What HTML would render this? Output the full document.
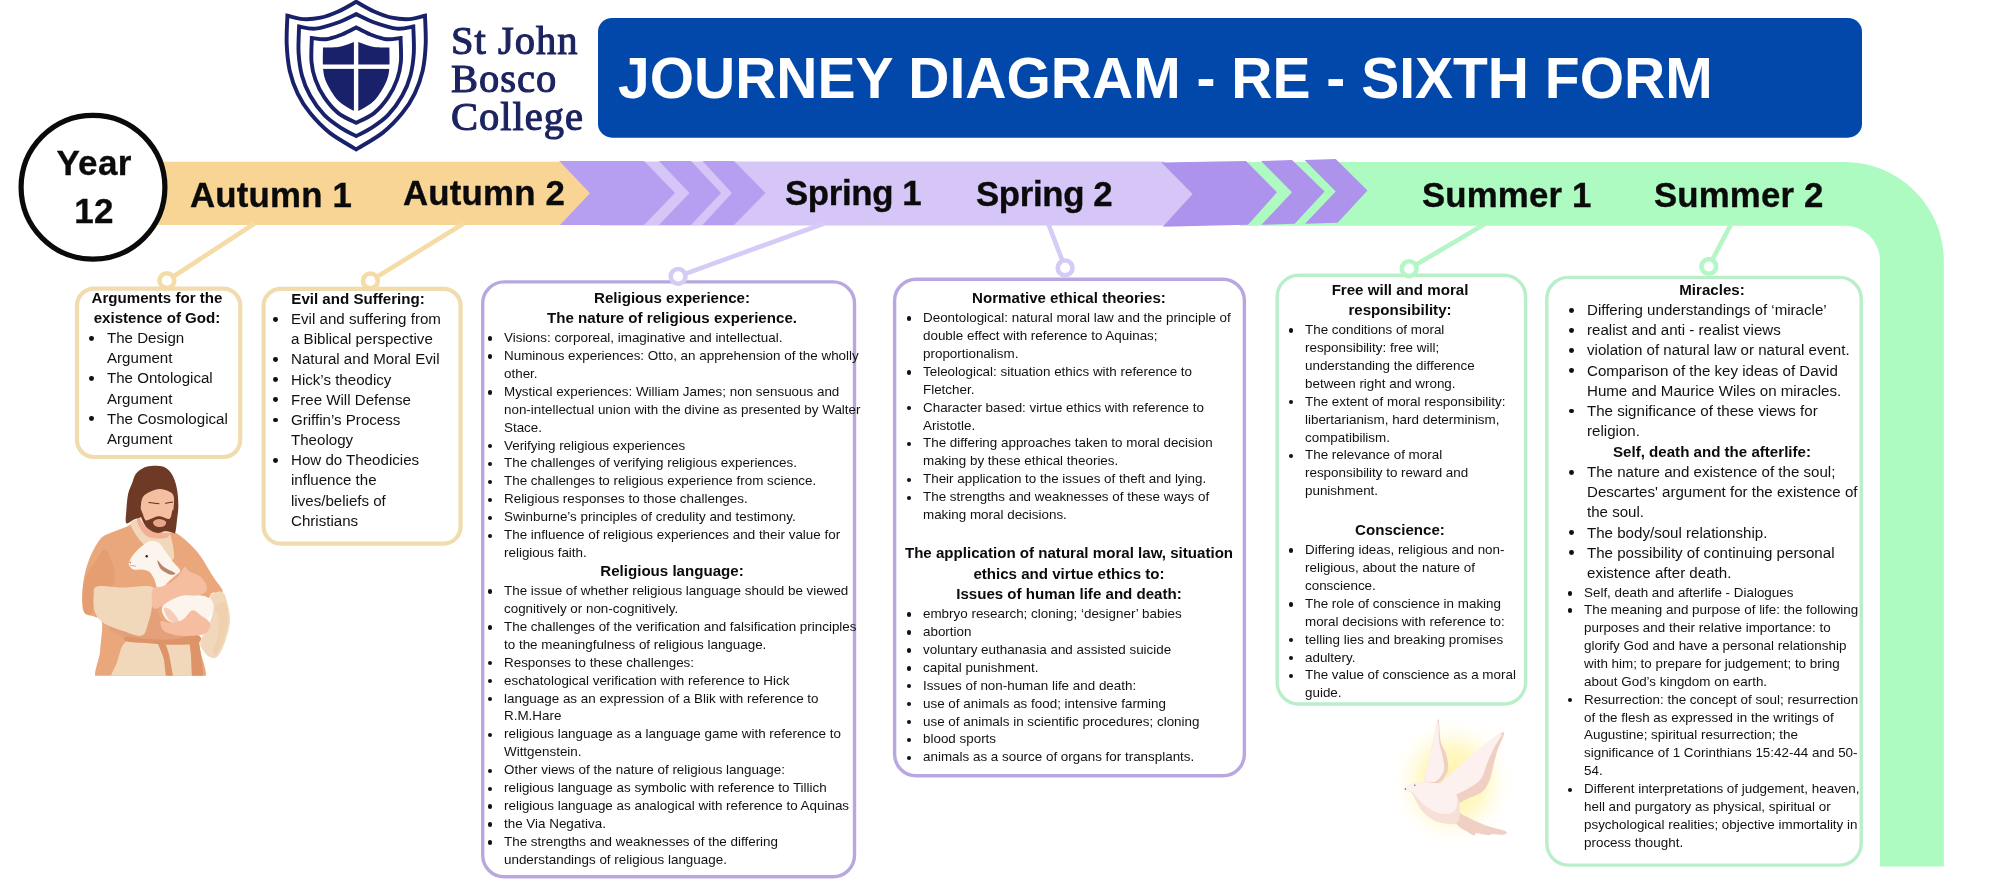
<!DOCTYPE html>
<html lang="en">
<head>
<meta charset="utf-8">
<title>Journey Diagram - RE - Sixth Form</title>
<style>
html,body{margin:0;padding:0;background:#fff;}
body{width:2000px;height:882px;position:relative;overflow:hidden;font-family:"Liberation Sans",sans-serif;color:#111;}
#bg{position:absolute;left:0;top:0;width:2000px;height:882px;}
.t{position:absolute;white-space:nowrap;will-change:transform;}
.title{font-weight:bold;font-size:57px;color:#fff;left:617.8px;top:46.4px;line-height:64px;letter-spacing:0px;}
.term{font-weight:bold;font-size:34.8px;line-height:40px;color:#0b0b0b;-webkit-text-stroke:0.35px #0b0b0b;}
.logo{font-family:"Liberation Serif",serif;font-weight:normal;color:#1c2460;-webkit-text-stroke:1.1px #1c2460;font-size:40.5px;line-height:37.85px;letter-spacing:1.0px;left:450.5px;top:21.8px;}
.box{position:absolute;white-space:nowrap;will-change:transform;}
.box ul{margin:0;padding:0;list-style:none;}
.box li{position:relative;}
.box li:before{content:"";position:absolute;width:4.6px;height:4.6px;border-radius:50%;background:#111;}
.h{font-weight:bold;font-size:15.1px;line-height:20.2px;text-align:center;color:#0b0b0b;}
.big li{font-size:15.1px;line-height:20.17px;}
.big li:before{left:-18.1px;top:7.8px;width:4.8px;height:4.8px;}
.sm li{font-size:13.42px;line-height:17.92px;}
.sm li:before{left:-16.3px;top:7.4px;width:4.4px;height:4.4px;}
</style>
</head>
<body>
<svg id="bg" viewBox="0 0 2000 882" width="2000" height="882">
  <!-- title banner -->
  <rect x="598" y="18" width="1264" height="119.7" rx="14" ry="14" fill="#0248ab"/>

  <!-- timeline: green -->
  <path d="M1240 162 H1844 A99.5 99 0 0 1 1943.8 260 V866.6 H1880 V260 A35 35 0 0 0 1844 225.7 H1240 Z" fill="#adfbc0"/>
  <!-- light purple band -->
  <path d="M600 161.5 H1164 L1195 193.5 L1164 225.4 H600 Z" fill="#d5c6f7"/>
  <!-- dark purple set 1 -->
  <path d="M559.5 161 H644 L675 193 L644 225 H559.5 Z" fill="#b69ff0"/>
  <path d="M659 161 H691 L721 193 L691 225 H659 L689.5 193 Z" fill="#b69ff0"/>
  <path d="M702.5 161 H734 L765.5 193 L734 225 H702.5 L732 193 Z" fill="#b69ff0"/>
  <!-- autumn band -->
  <path d="M150 161.7 H560 L590 193.3 L560 225 H150 Z" fill="#f8d594"/>
  <!-- dark purple set 2 (slightly tilted) -->
  <path d="M1161.5 162.6 L1246 161 L1277 192.3 L1248 224.8 L1162.7 226.7 L1192.6 194 Z" fill="#ae93ec"/>
  <path d="M1261 161 L1292 160 L1324.6 191.6 L1294.7 223.8 L1261.5 224.8 L1292 192.3 Z" fill="#ae93ec"/>
  <path d="M1304.5 160 L1335.7 159 L1367.5 190.6 L1337.6 222.8 L1305 223.8 L1335.7 191.6 Z" fill="#ae93ec"/>

  <!-- connectors -->
  <g fill="none" stroke-width="4.6" stroke-linecap="butt">
    <path d="M254.6 223.5 L166.9 280.7" stroke="#f5dba6"/>
    <path d="M463.6 223.5 L370.4 280.9" stroke="#f5dba6"/>
    <path d="M824 223.5 L678.1 276.4" stroke="#d6cbf6"/>
    <path d="M1048.2 223.5 L1065.1 267.9" stroke="#d6cbf6"/>
    <path d="M1485.6 223.5 L1409.2 268.7" stroke="#b5f6c7"/>
    <path d="M1731.4 223.5 L1708.8 266.5" stroke="#b5f6c7"/>
  </g>
  <!-- boxes -->
  <g fill="#fff">
    <rect x="77" y="288.6" width="163.2" height="168.4" rx="17" stroke="#f0dcae" stroke-width="4.2"/>
    <rect x="263.6" y="288.8" width="197" height="254.8" rx="17" stroke="#f0dcae" stroke-width="4.2"/>
    <rect x="482.7" y="281.9" width="371.8" height="594.9" rx="21.5" stroke="#b9a8df" stroke-width="3.4"/>
    <rect x="894.6" y="279.2" width="349.8" height="496.6" rx="21.5" stroke="#b9a8df" stroke-width="3.4"/>
    <rect x="1277.2" y="275.3" width="248.4" height="428.7" rx="21.5" stroke="#b9efc8" stroke-width="3.4"/>
    <rect x="1546.8" y="277.4" width="314.4" height="587.7" rx="21.5" stroke="#b9efc8" stroke-width="3.4"/>
  </g>
  <!-- connector rings -->
  <g fill="#fff" stroke-width="4.6">
    <circle cx="166.9" cy="280.7" r="7.4" stroke="#f5dba6"/>
    <circle cx="370.4" cy="280.9" r="7.4" stroke="#f5dba6"/>
    <circle cx="678.1" cy="276.4" r="7.4" stroke="#d6cbf6"/>
    <circle cx="1065.1" cy="267.9" r="7.4" stroke="#d6cbf6"/>
    <circle cx="1409.2" cy="268.7" r="7.4" stroke="#b5f6c7"/>
    <circle cx="1708.8" cy="266.5" r="7.4" stroke="#b5f6c7"/>
  </g>

  <!-- shield logo -->
<g fill="none" stroke="#18216a" stroke-width="3.9" stroke-linejoin="miter">
 <path d="M287.4 15.6 C290.0 16.1 297.4 18.7 303.0 19.1 C308.5 19.4 314.8 18.9 320.7 17.7 C326.6 16.4 332.4 14.1 338.3 11.5 C344.3 8.8 353.2 3.4 356.2 1.8 C359.2 3.4 368.1 8.8 374.1 11.5 C380.0 14.1 385.8 16.4 391.7 17.7 C397.6 18.9 403.9 19.4 409.4 19.1 C415.0 18.7 422.4 16.1 425.0 15.6 C425.1 20.3 426.1 35.0 425.7 44.2 C425.3 53.4 424.5 62.5 422.7 70.7 C420.8 79.0 418.1 86.6 414.7 93.7 C411.3 100.8 407.6 106.7 402.3 113.1 C397.0 119.6 390.6 126.6 382.9 132.6 C375.2 138.6 360.6 146.6 356.2 149.4 C351.7 146.6 337.2 138.6 329.5 132.6 C321.8 126.6 315.4 119.6 310.1 113.1 C304.8 106.7 301.1 100.8 297.7 93.7 C294.3 86.6 291.6 79.0 289.7 70.7 C287.9 62.5 287.1 53.4 286.7 44.2 C286.3 35.0 287.3 20.3 287.4 15.6 Z"/>
 <path d="M299.1 26.5 C301.8 26.9 309.1 29.2 315.4 28.6 C321.6 28.1 329.8 25.4 336.6 23.0 C343.4 20.6 352.9 15.6 356.2 14.1 C359.5 15.6 369.0 20.6 375.8 23.0 C382.6 25.4 390.8 28.1 397.0 28.6 C403.3 29.2 410.6 26.9 413.3 26.5 C413.4 30.9 414.3 44.8 413.8 53.0 C413.3 61.3 412.2 69.0 410.3 76.0 C408.4 83.1 406.0 89.0 402.3 95.5 C398.7 102.0 393.2 109.6 388.2 114.9 C383.2 120.2 377.6 123.8 372.3 127.3 C367.0 130.8 358.9 134.7 356.2 136.1 C353.5 134.7 345.4 130.8 340.1 127.3 C334.8 123.8 329.2 120.2 324.2 114.9 C319.2 109.6 313.7 102.0 310.1 95.5 C306.4 89.0 304.0 83.1 302.1 76.0 C300.2 69.0 299.1 61.3 298.6 53.0 C298.1 44.8 299.0 30.9 299.1 26.5 Z"/>
 <path d="M311.8 38.0 C314.2 38.2 321.0 39.8 326.0 39.2 C331.0 38.7 336.8 36.4 341.9 34.5 C346.9 32.5 353.8 28.6 356.2 27.4 C358.6 28.6 365.5 32.5 370.5 34.5 C375.6 36.4 381.4 38.7 386.4 39.2 C391.4 39.8 398.2 38.2 400.6 38.0 C400.6 42.0 401.5 55.0 400.9 61.9 C400.3 68.8 399.2 73.7 397.0 79.6 C394.9 85.5 392.0 91.6 388.2 97.2 C384.4 102.8 379.4 108.9 374.1 113.1 C368.7 117.4 359.2 121.3 356.2 122.9 C353.2 121.3 343.7 117.4 338.3 113.1 C333.0 108.9 328.0 102.8 324.2 97.2 C320.4 91.6 317.5 85.5 315.4 79.6 C313.2 73.7 312.1 68.8 311.5 61.9 C310.9 55.0 311.8 42.0 311.8 38.0 Z"/>
</g>
<path d="M323.0 47.4 C325.5 47.3 333.7 47.5 338.3 46.9 C343.0 46.2 347.7 44.3 350.7 43.3 C353.7 42.3 355.3 41.4 356.2 41.0 C357.1 41.4 358.7 42.3 361.7 43.3 C364.7 44.3 369.4 46.2 374.1 46.9 C378.7 47.5 386.9 47.3 389.4 47.4 C389.4 51.3 389.9 64.5 389.1 70.7 C388.3 77.0 387.2 79.9 384.7 84.9 C382.2 89.9 377.9 96.7 374.1 100.8 C370.2 104.8 364.7 107.4 361.7 109.3 C358.7 111.1 357.1 111.3 356.2 111.7 C355.3 111.3 353.7 111.1 350.7 109.3 C347.7 107.4 342.2 104.8 338.3 100.8 C334.5 96.7 330.2 89.9 327.7 84.9 C325.2 79.9 324.1 77.0 323.3 70.7 C322.5 64.5 323.0 51.3 323.0 47.4 Z" fill="#18216a"/>
<rect x="353.9" y="38" width="4.4" height="76" fill="#fff"/>
<rect x="320" y="64.5" width="74" height="4.4" fill="#fff"/>

  <!-- JESUS -->
<clipPath id="jc"><rect x="60" y="455" width="200" height="220.8"/></clipPath>
<g id="jesus" clip-path="url(#jc)">
<path d="M137.4 523.5C131.2 522.6 130.4 525.4 126.1 526.9C121.7 528.4 115.7 530.5 111.3 532.6C107.0 534.7 103.7 535.0 100.0 539.4C96.3 543.8 92.0 552.3 89.3 559.0C86.6 565.8 84.9 572.8 83.7 579.7C82.5 586.6 82.0 594.8 82.1 600.3C82.3 605.9 82.5 610.3 84.5 613.0C86.5 615.7 91.1 614.9 94.0 616.5C97.0 618.1 101.0 616.8 102.0 622.5C103.0 628.3 100.7 641.1 100.1 651.1C99.5 661.2 90.0 677.6 98.5 682.9C107.0 688.1 133.8 682.9 151.2 682.9C168.6 682.9 194.6 688.1 202.8 682.9C211.0 677.6 201.3 659.0 200.4 651.1C199.5 643.2 196.0 644.4 197.5 635.2C199.1 626.0 206.4 602.8 209.9 595.9C213.4 589.0 216.5 594.9 218.7 594.0C220.8 593.1 223.5 593.4 222.6 590.5C221.7 587.6 216.8 582.3 213.1 576.5C209.4 570.7 204.5 561.5 200.4 555.9C196.3 550.3 192.7 546.7 188.5 542.8C184.2 538.9 179.0 534.3 174.9 532.6C170.7 530.9 169.8 534.1 163.5 532.6C157.3 531.1 143.7 524.5 137.4 523.5Z" fill="#e9a77b"/>
<path d="M84.5 579.7C86.4 573.9 90.6 568.8 94.0 563.8C97.5 558.8 101.7 548.2 105.2 549.5C108.6 550.8 113.6 565.4 114.7 571.7C115.7 578.1 114.2 585.0 111.5 587.6C108.9 590.3 101.7 585.0 98.8 587.6C95.9 590.3 95.4 599.0 94.0 603.5C92.7 608.0 92.5 613.1 90.9 614.6C89.3 616.1 85.9 614.9 84.5 612.2C83.1 609.6 82.6 604.2 82.6 598.7C82.6 593.3 82.6 585.5 84.5 579.7Z" fill="#dd9468" opacity="0.45"/>
<path d="M109.1 624.9C111.0 624.5 116.9 627.2 122.6 628.9C128.3 630.6 138.8 637.6 143.3 635.2C147.8 632.9 147.8 619.4 149.6 614.6C151.5 609.8 152.0 605.3 154.4 606.7C156.7 608.0 159.9 617.8 163.9 622.5C167.9 627.3 172.6 633.1 178.2 635.2C183.7 637.4 194.0 634.2 197.2 635.2C200.4 636.3 204.7 640.5 197.5 641.6C190.4 642.6 166.1 642.1 154.4 641.6C142.7 641.1 134.5 640.1 127.4 638.4C120.2 636.7 114.6 633.5 111.5 631.3C108.5 629.0 107.3 625.3 109.1 624.9Z" fill="#e3a07a"/>
<path d="M130.4 523.5C130.4 520.7 134.9 519.4 137.4 520.1C139.9 520.9 142.2 525.8 145.4 528.1C148.6 530.3 152.9 533.0 156.7 533.7C160.5 534.5 165.6 531.6 168.1 532.6C170.5 533.5 170.5 536.4 171.5 539.4C172.4 542.4 173.5 547.3 173.7 550.7C173.9 554.1 175.0 558.3 172.6 559.8C170.1 561.3 163.5 562.1 159.0 559.8C154.4 557.5 149.0 550.0 145.4 546.2C141.8 542.4 139.9 540.9 137.4 537.1C134.9 533.3 130.4 526.3 130.4 523.5Z" fill="#f2d8ba"/>
<path d="M136.9 520.7C136.4 518.2 138.1 516.2 139.1 516.7C140.2 517.2 141.3 521.2 143.1 523.5C144.9 525.8 147.3 528.6 149.9 530.3C152.5 532.0 156.0 533.3 159.0 533.7C162.0 534.1 166.5 532.0 168.1 532.6C169.6 533.2 169.6 536.1 168.1 537.1C166.5 538.2 162.2 538.8 159.0 538.8C155.8 538.8 151.6 538.4 148.8 537.1C145.9 535.9 143.9 534.2 142.0 531.5C140.0 528.7 137.3 523.1 136.9 520.7Z" fill="#f4b094"/>
<path d="M127.4 640.8C134.1 637.6 147.2 642.6 157.5 643.2C167.9 643.7 183.7 637.4 189.6 644.0C195.6 650.6 199.7 676.4 193.3 682.9C186.9 689.3 164.7 682.9 151.2 682.9C137.7 682.9 118.0 686.3 112.3 682.9C106.6 679.4 114.6 669.2 117.1 662.2C119.6 655.2 120.6 644.0 127.4 640.8Z" fill="#f2d8ba"/>
<path d="M189.0 636.0C189.5 634.4 196.6 633.7 197.5 634.9C198.5 636.2 199.9 647.1 200.4 651.1C200.9 655.1 204.2 680.2 203.6 682.9C202.9 685.5 193.8 685.2 192.8 682.9C191.7 680.5 191.2 658.2 190.9 654.3C190.6 650.4 188.4 637.6 189.0 636.0Z" fill="#dd9468"/>
<path d="M126.6 636.5C130.6 636.1 143.4 638.8 151.2 639.2C159.0 639.7 165.7 639.9 173.4 639.2C181.1 638.5 193.4 634.3 197.5 634.9C201.7 635.5 202.2 641.2 198.2 642.9C194.2 644.5 181.2 644.7 173.4 644.8C165.6 644.9 158.9 644.0 151.2 643.5C143.5 643.0 131.2 642.8 127.1 641.6C123.0 640.4 122.6 636.9 126.6 636.5Z" fill="#dd9468"/>
<path d="M156.7 640.3C156.8 638.6 162.7 639.6 163.9 641.0C165.1 642.3 168.0 650.1 169.0 654.3C170.0 658.5 173.9 680.0 173.7 682.9C173.5 685.7 168.1 685.3 167.1 682.9C166.0 680.4 164.6 662.5 163.6 658.3C162.5 654.0 156.7 642.0 156.7 640.3Z" fill="#dd9468"/>
<path d="M97.2 586.5C102.0 585.2 113.3 587.5 122.6 587.6C131.9 587.8 148.2 584.1 153.1 587.3C158.0 590.5 152.8 600.8 152.0 606.7C151.2 612.5 150.1 617.7 148.3 622.5C146.6 627.4 146.0 634.2 141.7 635.6C137.4 636.9 129.0 632.9 122.6 630.8C116.3 628.7 108.2 626.0 103.6 622.9C98.9 619.7 96.5 616.3 94.8 611.7C93.2 607.2 93.3 599.8 93.7 595.6C94.1 591.3 92.4 587.8 97.2 586.5Z" fill="#f2d8ba"/>
<path d="M210.2 595.9C211.8 593.4 219.6 590.3 222.6 592.1C225.6 593.9 227.0 601.6 228.2 606.7C229.4 611.7 230.5 616.5 229.9 622.5C229.3 628.6 226.5 637.6 224.5 643.2C222.5 648.7 220.0 653.4 217.9 655.9C215.7 658.3 213.8 658.5 211.5 657.8C209.2 657.0 205.7 654.1 203.9 651.4C202.0 648.7 199.4 646.4 200.4 641.6C201.4 636.8 207.8 628.4 209.9 622.5C212.1 616.7 213.4 611.1 213.4 606.7C213.5 602.2 208.7 598.3 210.2 595.9Z" fill="#f2d8ba"/>
<path d="M214.7 606.7C215.7 604.0 223.7 600.8 225.8 603.5C227.9 606.1 227.9 616.2 227.4 622.5C226.9 628.9 224.5 636.3 222.6 641.6C220.8 646.9 217.9 652.7 216.3 654.3C214.7 655.9 212.8 654.3 213.1 651.1C213.4 647.9 216.8 640.5 217.9 635.2C218.9 629.9 220.0 624.1 219.4 619.4C218.9 614.6 213.6 609.3 214.7 606.7Z" fill="#ebc8a4" opacity="0.5"/>
<path d="M162.3 606.7C163.5 604.0 166.8 600.7 170.2 598.7C173.7 596.7 177.6 595.3 182.9 594.8C188.2 594.2 197.2 594.6 202.0 595.6C206.7 596.5 209.6 598.2 211.5 600.3C213.4 602.4 213.7 605.6 213.4 608.3C213.1 611.0 211.5 614.6 209.9 616.5C208.3 618.4 206.3 620.2 203.9 619.7C201.5 619.2 198.1 614.1 195.6 613.3C193.2 612.5 192.2 613.3 189.3 614.9C186.4 616.5 181.6 621.8 178.2 622.9C174.7 623.9 171.2 622.6 168.7 621.3C166.1 619.9 164.2 617.0 163.1 614.6C162.0 612.2 161.1 609.3 162.3 606.7Z" fill="#fcf5ee"/>
<path d="M129.0 562.2C129.6 560.2 131.6 556.9 133.7 554.3C135.8 551.6 139.0 548.5 141.7 546.3C144.3 544.2 146.7 541.9 149.6 541.3C152.5 540.7 156.3 541.0 159.1 542.9C161.9 544.8 163.9 549.5 166.3 552.7C168.7 555.9 171.1 559.3 173.4 562.2C175.7 565.1 179.6 568.1 180.1 570.2C180.6 572.2 178.5 572.7 176.6 574.6C174.7 576.5 170.8 579.6 168.7 581.6C166.5 583.5 165.7 585.3 163.9 586.3C162.0 587.4 159.1 589.0 157.5 587.9C156.0 586.8 155.7 582.3 154.4 579.7C153.0 577.0 151.7 573.8 149.6 572.1C147.5 570.4 144.3 569.9 141.7 569.5C139.0 569.1 135.7 570.1 133.7 569.5C131.7 569.0 130.6 567.4 129.8 566.2C129.0 565.0 128.3 564.2 129.0 562.2Z" fill="#fcf5ee"/>
<path d="M157.5 560.3C158.1 560.0 160.9 564.8 163.9 567.0C166.9 569.2 174.3 572.1 175.3 573.3C176.4 574.6 172.7 575.2 170.2 574.4C167.8 573.7 162.8 571.2 160.7 568.9C158.6 566.5 157.0 560.6 157.5 560.3Z" fill="#b9856a"/>
<circle cx="146.7" cy="556.2" r="1.2" fill="#2e2222"/>
<path d="M130.2 565.4 L136.1 566.2" stroke="#c98a78" stroke-width="0.7" fill="none"/>
<circle cx="130.2" cy="562.5" r="0.9" fill="#c98a78"/>
<path d="M152.8 589.2C154.6 585.6 159.9 587.9 163.9 586.0C167.9 584.2 173.1 581.2 176.6 578.1C180.0 575.0 182.4 568.4 184.5 567.3C186.7 566.2 187.0 570.2 189.6 571.7C192.2 573.3 197.5 574.1 200.4 576.5C203.3 578.9 206.0 583.4 206.7 586.0C207.5 588.7 207.0 590.8 205.2 592.4C203.3 594.0 199.3 595.0 195.6 595.6C191.9 596.1 187.2 594.7 182.9 595.6C178.7 596.4 173.9 598.8 170.2 600.6C166.5 602.5 163.6 605.5 160.7 606.7C157.8 607.8 154.1 610.4 152.8 607.5C151.5 604.6 150.9 592.8 152.8 589.2Z" fill="#f6bea0"/>
<path d="M160.7 621.3C161.8 619.9 166.5 623.2 170.2 622.9C173.9 622.5 179.2 621.5 182.9 619.4C186.6 617.2 189.3 610.7 192.5 610.2C195.6 609.6 199.1 614.1 202.0 616.2C204.9 618.3 209.1 620.2 209.9 622.9C210.7 625.6 209.1 630.3 206.7 632.4C204.4 634.5 200.4 635.0 195.6 635.6C190.9 636.1 183.5 636.3 178.2 635.6C172.9 634.8 166.8 633.2 163.9 630.8C161.0 628.4 159.7 622.6 160.7 621.3Z" fill="#f6bea0"/>
<path d="M163.9 608.3C164.2 606.7 167.9 608.0 170.2 609.8C172.6 611.7 177.1 617.2 178.2 619.4C179.2 621.5 178.2 622.5 176.6 622.5C175.0 622.5 170.8 621.7 168.7 619.4C166.5 617.0 163.6 609.8 163.9 608.3Z" fill="#f4b094" opacity="0.6"/>
<path d="M136.1 473.6C138.1 471.1 141.4 468.8 144.2 467.5C147.1 466.2 150.1 465.8 153.3 465.7C156.5 465.6 160.6 465.7 163.5 466.8C166.4 467.9 168.6 469.8 170.5 472.2C172.5 474.7 173.9 477.9 175.1 481.5C176.3 485.2 177.2 489.7 177.7 494.0C178.2 498.4 178.4 503.5 178.3 507.6C178.2 511.8 177.7 514.7 177.1 519.0C176.6 523.2 176.0 531.6 174.9 533.2C173.7 534.7 171.5 530.4 170.3 528.1C169.2 525.7 170.7 521.2 168.1 519.0C165.4 516.7 158.6 514.8 154.4 514.4C150.3 514.1 146.5 515.9 143.1 516.7C139.7 517.6 136.8 518.5 134.0 519.5C131.2 520.6 127.6 524.5 126.3 523.1C125.0 521.6 126.0 515.9 126.3 511.0C126.6 506.2 127.1 498.8 128.1 494.0C129.1 489.3 131.0 486.1 132.3 482.7C133.6 479.3 134.1 476.1 136.1 473.6Z" fill="#6f3a25"/>
<path d="M142.2 498.6C143.3 495.8 144.8 494.7 147.6 493.1C150.4 491.5 155.6 489.4 159.0 489.0C162.4 488.7 165.6 489.8 168.1 491.1C170.5 492.3 172.9 493.2 173.7 496.5C174.6 499.8 173.7 506.8 173.2 511.0C172.6 515.3 172.2 518.6 170.5 521.8C168.9 525.0 166.4 529.1 163.5 530.3C160.6 531.5 156.6 531.0 153.3 529.2C150.0 527.4 145.7 522.8 143.7 519.5C141.6 516.3 141.1 513.4 140.8 509.9C140.6 506.4 141.1 501.4 142.2 498.6Z" fill="#f6bea0"/>
<path d="M140.3 508.8C140.4 507.7 141.7 511.4 142.5 513.3C143.4 515.2 144.1 519.1 145.4 520.1C146.6 521.1 147.6 519.8 149.9 519.2C152.2 518.6 156.0 516.3 159.0 516.3C162.0 516.2 166.1 518.9 168.1 519.0C170.0 519.1 170.1 518.2 170.9 516.7C171.6 515.2 172.0 510.5 172.6 509.9C173.2 509.3 174.1 510.3 174.3 513.3C174.5 516.3 173.6 524.8 173.7 528.1C173.8 531.3 176.2 532.1 174.9 532.6C173.5 533.1 168.8 531.2 165.8 531.2C162.8 531.3 159.7 533.3 156.7 532.8C153.7 532.3 150.1 530.5 147.6 528.3C145.2 526.1 143.2 522.8 142.0 519.5C140.7 516.3 140.2 509.8 140.3 508.8Z" fill="#6f3a25"/>
<path d="M153.3 521.5C154.1 520.4 156.9 519.0 159.0 519.0C161.1 519.0 164.8 520.3 165.8 521.5C166.7 522.6 165.8 524.8 164.6 525.8C163.5 526.7 160.7 527.2 159.0 527.1C157.3 527.1 155.4 526.3 154.4 525.3C153.5 524.4 152.5 522.5 153.3 521.5Z" fill="#e9a58a"/>
<path d="M148.8 502.5 L159.0 503.8 M165.6 503.3 L172.6 502.0" stroke="#5a2f1f" stroke-width="1.1" fill="none" stroke-linecap="round"/>
</g>
<!-- /JESUS -->
  <!-- DOVE -->
<g id="dove">
<defs><radialGradient id="glow" cx="50%" cy="50%" r="50%"><stop offset="0" stop-color="#fff2a0" stop-opacity="0.95"/><stop offset="0.5" stop-color="#fff5b0" stop-opacity="0.7"/><stop offset="0.8" stop-color="#fffbe0" stop-opacity="0.25"/><stop offset="1" stop-color="#ffffff" stop-opacity="0"/></radialGradient><filter id="sb" x="-20%" y="-20%" width="140%" height="140%"><feGaussianBlur stdDeviation="0.7"/></filter></defs>
<ellipse cx="1452.6" cy="781.6" rx="64" ry="68" fill="url(#glow)"/>
<g filter="url(#sb)">
<path d="M1452.6 808.8C1454.1 807.6 1459.8 813.4 1465.3 816.1C1470.7 818.8 1478.6 822.7 1485.2 825.2C1491.9 827.6 1502.0 829.4 1505.2 831.0C1508.3 832.5 1506.4 834.1 1504.3 834.6C1502.1 835.1 1495.0 833.8 1492.5 833.9C1489.9 834.0 1491.6 835.2 1488.8 835.1C1486.1 835.1 1478.6 833.2 1476.1 833.3C1473.7 833.4 1476.1 836.1 1474.3 835.7C1472.5 835.2 1468.3 832.7 1465.3 830.6C1462.2 828.6 1458.3 827.0 1456.2 823.4C1454.1 819.7 1451.1 810.1 1452.6 808.8Z" fill="#efd0c3"/>
<path d="M1424.4 779.8C1423.8 775.9 1427.3 767.1 1429.0 759.9C1430.6 752.6 1432.8 743.1 1434.4 736.3C1436.0 729.5 1437.4 718.1 1438.4 719.0C1439.5 720.0 1439.5 735.8 1440.8 741.7C1442.1 747.6 1445.0 749.7 1446.2 754.4C1447.4 759.1 1448.9 765.3 1448.0 769.8C1447.1 774.4 1443.3 779.4 1440.8 781.6C1438.2 783.9 1435.3 783.7 1432.6 783.4C1429.9 783.1 1425.0 783.7 1424.4 779.8Z" fill="#efd0c3"/>
<path d="M1424.4 779.8C1423.9 776.1 1427.0 766.8 1428.6 759.9C1430.2 752.9 1432.5 744.4 1434.1 738.1C1435.6 731.7 1437.1 720.9 1438.0 721.8C1439.0 722.7 1438.7 737.8 1439.5 743.5C1440.3 749.3 1441.9 751.9 1442.6 756.2C1443.3 760.6 1444.6 765.9 1443.9 769.8C1443.1 773.8 1440.1 777.8 1438.0 779.8C1436.0 781.8 1434.0 782.0 1431.7 782.0C1429.4 782.0 1425.0 783.5 1424.4 779.8Z" fill="#fcf1ee"/>
<path d="M1439.9 785.3C1440.2 779.8 1449.2 776.1 1456.2 769.8C1463.1 763.6 1473.7 753.8 1481.6 747.5C1489.5 741.2 1501.1 731.5 1503.7 731.9C1506.4 732.3 1499.2 744.6 1497.6 749.9C1495.9 755.1 1495.2 758.5 1493.9 763.5C1492.6 768.5 1491.7 775.1 1489.8 779.8C1487.8 784.5 1486.3 788.4 1482.5 791.6C1478.7 794.8 1471.8 797.1 1467.1 798.9C1462.4 800.7 1458.9 804.8 1454.4 802.5C1449.8 800.2 1439.6 790.7 1439.9 785.3Z" fill="#efd0c3"/>
<path d="M1439.9 784.4C1441.4 780.1 1449.4 775.1 1456.2 768.9C1463.0 762.8 1473.1 753.4 1480.7 747.5C1488.2 741.6 1499.4 733.3 1501.5 733.6C1503.7 733.8 1495.8 744.0 1493.4 749.0C1491.0 754.0 1489.0 758.7 1487.0 763.5C1485.1 768.3 1484.3 774.1 1481.6 778.0C1478.9 781.9 1474.9 784.4 1470.7 787.1C1466.5 789.8 1460.1 793.1 1456.2 794.3C1452.3 795.5 1449.8 796.0 1447.1 794.3C1444.4 792.7 1438.4 788.6 1439.9 784.4Z" fill="#fcf1ee"/>
<path d="M1404.5 788.9C1404.1 787.4 1407.5 785.4 1409.9 784.4C1412.4 783.3 1414.9 782.8 1419.0 782.5C1423.1 782.3 1429.4 782.3 1434.4 783.1C1439.4 783.8 1445.0 784.6 1448.9 787.1C1452.9 789.6 1456.2 793.7 1458.0 798.0C1459.8 802.2 1459.8 808.5 1459.8 812.5C1459.8 816.5 1459.8 819.9 1458.0 821.9C1456.2 823.9 1452.9 824.5 1448.9 824.3C1445.0 824.1 1438.8 822.8 1434.4 820.6C1430.0 818.5 1425.7 814.7 1422.6 811.6C1419.6 808.4 1418.0 804.6 1416.3 801.6C1414.6 798.6 1414.3 795.5 1412.3 793.4C1410.3 791.3 1404.9 790.4 1404.5 788.9Z" fill="#f6e0d8"/>
<path d="M1404.5 788.9C1404.0 787.5 1407.5 785.4 1409.9 784.4C1412.4 783.3 1414.9 782.8 1419.0 782.5C1423.1 782.3 1429.4 782.4 1434.4 783.1C1439.4 783.8 1445.3 784.8 1448.9 786.7C1452.6 788.6 1454.8 791.2 1456.2 794.3C1457.6 797.4 1457.7 802.2 1457.1 805.2C1456.5 808.2 1455.4 811.1 1452.6 812.5C1449.7 813.8 1444.1 814.3 1439.9 813.4C1435.6 812.5 1430.8 809.4 1427.2 807.0C1423.5 804.6 1420.5 801.3 1418.1 798.9C1415.7 796.4 1414.9 794.2 1412.7 792.5C1410.4 790.9 1404.9 790.2 1404.5 788.9Z" fill="#fcf1ee"/>
</g>
<circle cx="1414.8" cy="785.3" r="0.8" fill="#6a6a7a"/>
<circle cx="1405.4" cy="789.1" r="0.8" fill="#6a6a6a"/>
</g>
<!-- /DOVE -->
  <!-- year circle -->
  <circle cx="93" cy="187.2" r="71.9" fill="#fff" stroke="#0a0a0a" stroke-width="5.2"/>
</svg>

<div class="t title" id="title">JOURNEY DIAGRAM - RE - SIXTH FORM</div>

<div class="t logo" id="logo">St John<br>Bosco<br>College</div>

<div class="t term" id="year" style="left:53.5px;top:139px;font-size:35px;line-height:47.8px;text-align:center;width:80px;letter-spacing:0.3px;">Year<br>12</div>
<div class="t term" id="au1" style="left:190px;top:174.5px;letter-spacing:0.2px;">Autumn 1</div>
<div class="t term" id="au2" style="left:402.7px;top:172.9px;letter-spacing:0.2px;">Autumn 2</div>
<div class="t term" id="sp1" style="left:785.2px;top:172.5px;letter-spacing:-0.36px;">Spring 1</div>
<div class="t term" id="sp2" style="left:976px;top:173.8px;letter-spacing:-0.36px;">Spring 2</div>
<div class="t term" id="su1" style="left:1422px;top:174.8px;letter-spacing:0.15px;">Summer 1</div>
<div class="t term" id="su2" style="left:1653.8px;top:174.8px;letter-spacing:0.15px;">Summer 2</div>

<!-- Box 1 -->
<div class="box" id="b1h" style="left:57.4px;top:288.3px;width:200px;"><div class="h" style="line-height:20.1px">Arguments for the<br>existence of God:</div></div>
<div class="box big" id="b1l" style="left:106.8px;top:328.3px;"><ul>
<li>The Design<br>Argument</li>
<li>The Ontological<br>Argument</li>
<li>The Cosmological<br>Argument</li>
</ul></div>

<!-- Box 2 -->
<div class="box" id="b2h" style="left:258px;top:288.8px;width:200px;"><div class="h">Evil and Suffering:</div></div>
<div class="box big" id="b2l" style="left:291.4px;top:309.3px;"><ul>
<li>Evil and suffering from<br>a Biblical perspective</li>
<li>Natural and Moral Evil</li>
<li>Hick&rsquo;s theodicy</li>
<li>Free Will Defense</li>
<li>Griffin&rsquo;s Process<br>Theology</li>
<li>How do Theodicies<br>influence the<br>lives/beliefs of<br>Christians</li>
</ul></div>

<!-- Box 3 -->
<div class="box" id="b3h" style="left:522.2px;top:287.6px;width:300px;"><div class="h">Religious experience:<br>The nature of religious experience.</div></div>
<div class="box sm" id="b3l" style="left:503.7px;top:329.2px;"><ul>
<li>Visions: corporeal, imaginative and intellectual.</li>
<li>Numinous experiences: Otto, an apprehension of the wholly<br>other.</li>
<li>Mystical experiences: William James; non sensuous and<br>non-intellectual union with the divine as presented by Walter<br>Stace.</li>
<li>Verifying religious experiences</li>
<li>The challenges of verifying religious experiences.</li>
<li>The challenges to religious experience from science.</li>
<li>Religious responses to those challenges.</li>
<li>Swinburne&rsquo;s principles of credulity and testimony.</li>
<li>The influence of religious experiences and their value for<br>religious faith.</li>
</ul></div>
<div class="box" id="b3h2" style="left:522.2px;top:561.2px;width:300px;"><div class="h">Religious language:</div></div>
<div class="box sm" id="b3l2" style="left:503.7px;top:582.3px;"><ul>
<li>The issue of whether religious language should be viewed<br>cognitively or non-cognitively.</li>
<li>The challenges of the verification and falsification principles<br>to the meaningfulness of religious language.</li>
<li>Responses to these challenges:</li>
<li>eschatological verification with reference to Hick</li>
<li>language as an expression of a Blik with reference to<br>R.M.Hare</li>
<li>religious language as a language game with reference to<br>Wittgenstein.</li>
<li>Other views of the nature of religious language:</li>
<li>religious language as symbolic with reference to Tillich</li>
<li>religious language as analogical with reference to Aquinas</li>
<li>the Via Negativa.</li>
<li>The strengths and weaknesses of the differing<br>understandings of religious language.</li>
</ul></div>

<!-- Box 4 -->
<div class="box" id="b4h" style="left:918.7px;top:288.2px;width:300px;"><div class="h">Normative ethical theories:</div></div>
<div class="box sm" id="b4l" style="left:922.7px;top:309.2px;"><ul style="line-height:17.85px">
<li>Deontological: natural moral law and the principle of<br>double effect with reference to Aquinas;<br>proportionalism.</li>
<li>Teleological: situation ethics with reference to<br>Fletcher.</li>
<li>Character based: virtue ethics with reference to<br>Aristotle.</li>
<li>The differing approaches taken to moral decision<br>making by these ethical theories.</li>
<li>Their application to the issues of theft and lying.</li>
<li>The strengths and weaknesses of these ways of<br>making moral decisions.</li>
</ul></div>
<div class="box" id="b4h2" style="left:868.7px;top:542.7px;width:400px;"><div class="h" style="line-height:20.5px">The application of natural moral law, situation<br>ethics and virtue ethics to:<br>Issues of human life and death:</div></div>
<div class="box sm" id="b4l2" style="left:922.7px;top:604.8px;"><ul style="line-height:17.86px">
<li>embryo research; cloning; &lsquo;designer&rsquo; babies</li>
<li>abortion</li>
<li>voluntary euthanasia and assisted suicide</li>
<li>capital punishment.</li>
<li>Issues of non-human life and death:</li>
<li>use of animals as food; intensive farming</li>
<li>use of animals in scientific procedures; cloning</li>
<li>blood sports</li>
<li>animals as a source of organs for transplants.</li>
</ul></div>

<!-- Box 5 -->
<div class="box" id="b5h" style="left:1250px;top:280.1px;width:300px;"><div class="h" style="line-height:19.8px">Free will and moral<br>responsibility:</div></div>
<div class="box sm" id="b5l" style="left:1304.6px;top:321.1px;"><ul style="line-height:17.98px">
<li>The conditions of moral<br>responsibility: free will;<br>understanding the difference<br>between right and wrong.</li>
<li>The extent of moral responsibility:<br>libertarianism, hard determinism,<br>compatibilism.</li>
<li>The relevance of moral<br>responsibility to reward and<br>punishment.</li>
</ul></div>
<div class="box" id="b5h2" style="left:1250px;top:520.1px;width:300px;"><div class="h">Conscience:</div></div>
<div class="box sm" id="b5l2" style="left:1304.6px;top:540.6px;"><ul style="line-height:17.89px">
<li>Differing ideas, religious and non-<br>religious, about the nature of<br>conscience.</li>
<li>The role of conscience in making<br>moral decisions with reference to:</li>
<li>telling lies and breaking promises</li>
<li>adultery.</li>
<li>The value of conscience as a moral<br>guide.</li>
</ul></div>

<!-- Box 6 -->
<div class="box" id="b6h" style="left:1562px;top:280px;width:300px;"><div class="h">Miracles:</div></div>
<div class="box big" id="b6l" style="left:1586.8px;top:300.2px;"><ul style="line-height:20.18px">
<li>Differing understandings of &lsquo;miracle&rsquo;</li>
<li>realist and anti - realist views</li>
<li>violation of natural law or natural event.</li>
<li>Comparison of the key ideas of David<br>Hume and Maurice Wiles on miracles.</li>
<li>The significance of these views for<br>religion.</li>
</ul></div>
<div class="box" id="b6h2" style="left:1562px;top:442.4px;width:300px;"><div class="h">Self, death and the afterlife:</div></div>
<div class="box big" id="b6l2" style="left:1586.8px;top:461.8px;"><ul style="line-height:20.2px">
<li>The nature and existence of the soul;<br>Descartes' argument for the existence of<br>the soul.</li>
<li>The body/soul relationship.</li>
<li>The possibility of continuing personal<br>existence after death.</li>
</ul></div>
<div class="box sm" id="b6l3" style="left:1583.7px;top:583.9px;"><ul style="line-height:17.92px">
<li>Self, death and afterlife - Dialogues</li>
</ul></div>
<div class="box sm" id="b6l4" style="left:1583.7px;top:600.7px;"><ul style="line-height:17.92px">
<li>The meaning and purpose of life: the following<br>purposes and their relative importance: to<br>glorify God and have a personal relationship<br>with him; to prepare for judgement; to bring<br>about God&rsquo;s kingdom on earth.</li>
<li>Resurrection: the concept of soul; resurrection<br>of the flesh as expressed in the writings of<br>Augustine; spiritual resurrection; the<br>significance of 1 Corinthians 15:42-44 and 50-<br>54.</li>
<li>Different interpretations of judgement, heaven,<br>hell and purgatory as physical, spiritual or<br>psychological realities; objective immortality in<br>process thought.</li>
</ul></div>

</body>
</html>
